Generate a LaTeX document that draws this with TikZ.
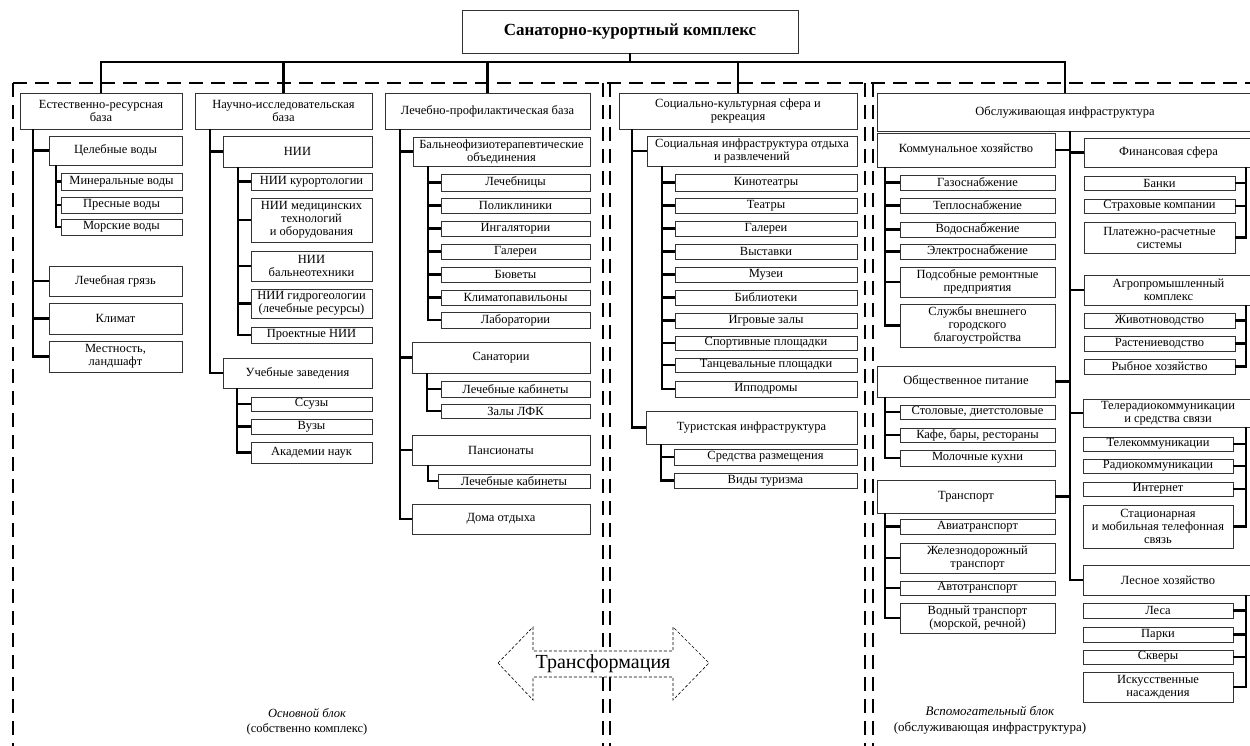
\documentclass[tikz,border=0pt]{standalone}
\usepackage{fontspec}
\setmainfont{Liberation Serif}
\newcommand\bx[6]{\node[bx,minimum width={#4-#2},minimum height={#5-#3}] (#1) at ({(#2+#4)/2},{(#3+#5)/2}) {#6};}
\newcommand\lc[3]{\draw[conn] (#1.south west) ++(#2,0) |- (#3.west);}
\newcommand\rc[3]{\draw[conn] (#1.south east) ++(-#2,0) |- (#3.east);}
\begin{document}
\begin{tikzpicture}[x=1pt,y=-1pt,
  bx/.style={draw=black!80,line width=0.5pt,inner sep=1pt,align=center,font=\fontsize{12.5}{13}\selectfont},
  conn/.style={line width=2.4pt},
  framel/.style={line width=1.4pt,dash pattern=on 14pt off 8pt},
  arrowl/.style={line width=0.6pt,dash pattern=on 3pt off 2pt,fill=white}]
\useasboundingbox (0,0) rectangle (1250,746);
\fill[white] (0,0) rectangle (1250,746);

% dashed block frames
\draw[framel] (13,83) -- (1250,83);
\foreach \xx in {13,603,610,865,873} \draw[framel] (\xx,83) -- (\xx,746);

% title
\node[bx,font=\bfseries\fontsize{17}{18}\selectfont,minimum width=336,minimum height=43] (title) at (630,31.5) {Санаторно-курортный комплекс};

% column 1
\bx{c1}{20}{93}{182}{129}{Естественно-ресурсная\\база}
\bx{c1a}{49}{136}{182}{165}{Целебные воды}
\bx{c1aa}{61}{173}{182}{190}{Минеральные воды}
\bx{c1ab}{61}{197}{182}{213}{Пресные воды}
\bx{c1ac}{61}{219}{182}{235}{Морские воды}
\bx{c1b}{49}{266}{182}{296}{Лечебная грязь}
\bx{c1c}{49}{303}{182}{334}{Климат}
\bx{c1d}{49}{341}{182}{372}{Местность,\\ландшафт}
\foreach \c in {c1a,c1b,c1c,c1d} {\lc{c1}{13}{\c}}
\foreach \c in {c1aa,c1ab,c1ac} {\lc{c1a}{7}{\c}}

% column 2
\bx{c2}{195}{93}{372}{129}{Научно-исследовательская\\база}
\bx{c2a}{223}{136}{372}{167}{НИИ}
\bx{c2aa}{251}{173}{372}{190}{НИИ курортологии}
\bx{c2ab}{251}{198}{372}{242}{НИИ медицинских\\технологий\\и оборудования}
\bx{c2ac}{251}{251}{372}{281}{НИИ\\бальнеотехники}
\bx{c2ad}{251}{289}{372}{318}{НИИ гидрогеологии\\(лечебные ресурсы)}
\bx{c2ae}{251}{327}{372}{343}{Проектные НИИ}
\bx{c2b}{223}{358}{372}{388}{Учебные заведения}
\bx{c2ba}{251}{397}{372}{411}{Ссузы}
\bx{c2bb}{251}{419}{372}{434}{Вузы}
\bx{c2bc}{251}{442}{372}{463}{Академии наук}
\foreach \c in {c2a,c2b} {\lc{c2}{15}{\c}}
\foreach \c in {c2aa,c2ab,c2ac,c2ad,c2ae} {\lc{c2a}{15}{\c}}
\foreach \c in {c2ba,c2bb,c2bc} {\lc{c2b}{14}{\c}}

% column 3
\bx{c3}{385}{93}{590}{129}{Лечебно-профилактическая база}
\bx{c3a}{413}{137}{590}{166}{Бальнеофизиотерапевтические\\объединения}
\bx{c3aa}{441}{174}{590}{191}{Лечебницы}
\bx{c3ab}{441}{198}{590}{213}{Поликлиники}
\bx{c3ac}{441}{221}{590}{236}{Ингалятории}
\bx{c3ad}{441}{244}{590}{259}{Галереи}
\bx{c3ae}{441}{267}{590}{282}{Бюветы}
\bx{c3af}{441}{290}{590}{305}{Климатопавильоны}
\bx{c3ag}{441}{312}{590}{328}{Лаборатории}
\bx{c3b}{412}{342}{590}{373}{Санатории}
\bx{c3ba}{441}{381}{590}{397}{Лечебные кабинеты}
\bx{c3bb}{441}{404}{590}{418}{Залы ЛФК}
\bx{c3c}{412}{435}{590}{465}{Пансионаты}
\bx{c3ca}{438}{474}{590}{488}{Лечебные кабинеты}
\bx{c3d}{412}{504}{590}{534}{Дома отдыха}
\foreach \c in {c3a,c3b,c3c,c3d} {\lc{c3}{15}{\c}}
\foreach \c in {c3aa,c3ab,c3ac,c3ad,c3ae,c3af,c3ag} {\lc{c3a}{15}{\c}}
\foreach \c in {c3ba,c3bb} {\lc{c3b}{15}{\c}}
\lc{c3c}{16}{c3ca}

% column 4
\bx{c4}{619}{93}{857}{129}{Социально-культурная сфера и\\рекреация}
\bx{c4a}{647}{136}{857}{166}{Социальная инфраструктура отдыха\\и развлечений}
\bx{c4aa}{675}{174}{857}{191}{Кинотеатры}
\bx{c4ab}{675}{198}{857}{213}{Театры}
\bx{c4ac}{675}{221}{857}{236}{Галереи}
\bx{c4ad}{675}{244}{857}{259}{Выставки}
\bx{c4ae}{675}{267}{857}{282}{Музеи}
\bx{c4af}{675}{290}{857}{305}{Библиотеки}
\bx{c4ag}{675}{313}{857}{328}{Игровые залы}
\bx{c4ah}{675}{336}{857}{350}{Спортивные площадки}
\bx{c4ai}{675}{358}{857}{372}{Танцевальные площадки}
\bx{c4aj}{675}{381}{857}{397}{Ипподромы}
\bx{c4b}{646}{411}{857}{444}{Туристская инфраструктура}
\bx{c4ba}{674}{449}{857}{465}{Средства размещения}
\bx{c4bb}{674}{473}{857}{488}{Виды туризма}
\foreach \c in {c4a,c4b} {\lc{c4}{13}{\c}}
\foreach \c in {c4aa,c4ab,c4ac,c4ad,c4ae,c4af,c4ag,c4ah,c4ai,c4aj} {\lc{c4a}{15}{\c}}
\foreach \c in {c4ba,c4bb} {\lc{c4b}{15}{\c}}

% column 5
\bx{c5}{877}{93}{1253}{131}{Обслуживающая инфраструктура}
\bx{c5a}{877}{133}{1055}{167}{Коммунальное хозяйство}
\bx{c5aa}{900}{175}{1055}{190}{Газоснабжение}
\bx{c5ab}{900}{198}{1055}{213}{Теплоснабжение}
\bx{c5ac}{900}{222}{1055}{237}{Водоснабжение}
\bx{c5ad}{900}{244}{1055}{259}{Электроснабжение}
\bx{c5ae}{900}{267}{1055}{297}{Подсобные ремонтные\\предприятия}
\bx{c5af}{900}{304}{1055}{347}{Службы внешнего\\городского\\благоустройства}
\bx{c5b}{877}{366}{1055}{397}{Общественное питание}
\bx{c5ba}{900}{405}{1055}{419}{Столовые, диетстоловые}
\bx{c5bb}{900}{428}{1055}{442}{Кафе, бары, рестораны}
\bx{c5bc}{900}{450}{1055}{466}{Молочные кухни}
\bx{c5c}{877}{480}{1055}{513}{Транспорт}
\bx{c5ca}{900}{519}{1055}{534}{Авиатранспорт}
\bx{c5cb}{900}{543}{1055}{573}{Железнодорожный\\транспорт}
\bx{c5cc}{900}{581}{1055}{595}{Автотранспорт}
\bx{c5cd}{900}{603}{1055}{633}{Водный транспорт\\(морской, речной)}
\bx{c5d}{1084}{138}{1253}{167}{Финансовая сфера}
\bx{c5da}{1084}{176}{1235}{190}{Банки}
\bx{c5db}{1084}{199}{1235}{213}{Страховые компании}
\bx{c5dc}{1084}{222}{1235}{253}{Платежно-расчетные\\системы}
\bx{c5e}{1084}{275}{1253}{305}{Агропромышленный\\комплекс}
\bx{c5ea}{1084}{313}{1235}{328}{Животноводство}
\bx{c5eb}{1084}{336}{1235}{351}{Растениеводство}
\bx{c5ec}{1084}{359}{1235}{374}{Рыбное хозяйство}
\bx{c5f}{1083}{399}{1253}{427}{Телерадиокоммуникации\\и средства связи}
\bx{c5fa}{1083}{437}{1233}{451}{Телекоммуникации}
\bx{c5fb}{1083}{459}{1233}{473}{Радиокоммуникации}
\bx{c5fc}{1083}{482}{1233}{496}{Интернет}
\bx{c5fd}{1083}{505}{1233}{548}{Стационарная\\и мобильная телефонная\\связь}
\bx{c5g}{1083}{565}{1253}{595}{Лесное хозяйство}
\bx{c5ga}{1083}{603}{1233}{618}{Леса}
\bx{c5gb}{1083}{627}{1233}{642}{Парки}
\bx{c5gc}{1083}{650}{1233}{664}{Скверы}
\bx{c5gd}{1083}{672}{1233}{702}{Искусственные\\насаждения}
\foreach \c in {c5a,c5b,c5c} {\draw[conn] (c5.south west) ++(193,0) |- (\c.east);}
\foreach \c in {c5d,c5e,c5f,c5g} {\draw[conn] (c5.south west) ++(193,0) |- (\c.west);}
\foreach \c in {c5aa,c5ab,c5ac,c5ad,c5ae,c5af} {\lc{c5a}{8}{\c}}
\foreach \c in {c5ba,c5bb,c5bc} {\lc{c5b}{8}{\c}}
\foreach \c in {c5ca,c5cb,c5cc,c5cd} {\lc{c5c}{8}{\c}}
\foreach \c in {c5da,c5db,c5dc} {\rc{c5d}{7}{\c}}
\foreach \c in {c5ea,c5eb,c5ec} {\rc{c5e}{7}{\c}}
\foreach \c in {c5fa,c5fb,c5fc,c5fd} {\rc{c5f}{7}{\c}}
\foreach \c in {c5ga,c5gb,c5gc,c5gd} {\rc{c5g}{7}{\c}}

% top bus
\coordinate (bus) at (630,62);
\draw[conn] (title.south) -- (bus);
\foreach \c in {c1,c2,c3,c4,c5} {\draw[conn] (bus) -| (\c.north);}

% transformation arrow
\draw[arrowl] (498,663) -- (533,627) -- (533,651) -- (673,651) -- (673,627) -- (709,663) -- (673,700) -- (673,677) -- (533,677) -- (533,700) -- cycle;
\node[font=\fontsize{20}{20}\selectfont,inner sep=0pt] (tr) at (603,664) {Трансформация};

% block labels
\node[font=\fontsize{12.5}{15}\selectfont,align=center] (lab1) at (307,722) {{\itshape Основной блок}\\(собственно комплекс)};
\node[font=\fontsize{13}{16}\selectfont,align=center] (lab2) at (990,720) {{\itshape Вспомогательный блок}\\(обслуживающая инфраструктура)};
\end{tikzpicture}
\end{document}
